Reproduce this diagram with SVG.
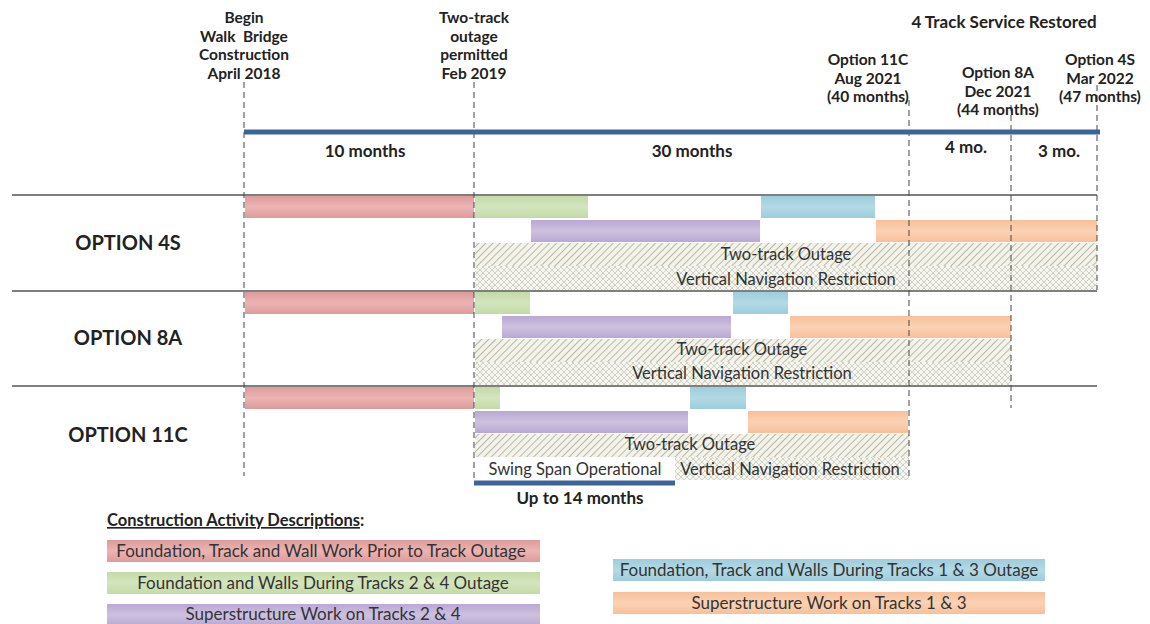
<svg xmlns="http://www.w3.org/2000/svg" width="1150" height="624" viewBox="0 0 1150 624">
<style>
text{font-family:Lato,"Liberation Sans",sans-serif;fill:#222}
.h{font-weight:bold;font-size:17px;text-anchor:middle}
.hs{font-weight:bold;font-size:15.5px;text-anchor:middle;white-space:pre}
.opt{font-weight:bold;font-size:20px;text-anchor:middle}
.lbl{font-size:16.5px;text-anchor:middle;fill:#333}
.leg{font-size:17px;text-anchor:middle;fill:#333}
.dash{stroke:#444;stroke-width:1;stroke-dasharray:6,4;fill:none}
.sep{stroke:#555;stroke-width:1.3}
.tl{stroke:#3c6496;stroke-width:5}
</style>
<defs>
<linearGradient id="gPink" x1="0" y1="0" x2="0" y2="1"><stop offset="0" stop-color="#dd9b9a"/><stop offset="0.5" stop-color="#ebb4b3"/><stop offset="1" stop-color="#dd9b9a"/></linearGradient>
<linearGradient id="gGreen" x1="0" y1="0" x2="0" y2="1"><stop offset="0" stop-color="#c3dba7"/><stop offset="0.5" stop-color="#d3e5bd"/><stop offset="1" stop-color="#c3dba7"/></linearGradient>
<linearGradient id="gBlue" x1="0" y1="0" x2="0" y2="1"><stop offset="0" stop-color="#9dcddc"/><stop offset="0.5" stop-color="#b3d9e5"/><stop offset="1" stop-color="#9dcddc"/></linearGradient>
<linearGradient id="gPurple" x1="0" y1="0" x2="0" y2="1"><stop offset="0" stop-color="#b9a8d2"/><stop offset="0.5" stop-color="#cdc1e0"/><stop offset="1" stop-color="#b9a8d2"/></linearGradient>
<linearGradient id="gOrange" x1="0" y1="0" x2="0" y2="1"><stop offset="0" stop-color="#f7c09a"/><stop offset="0.5" stop-color="#fbd2b4"/><stop offset="1" stop-color="#f7c09a"/></linearGradient>
<pattern id="hatch" width="5" height="5" patternUnits="userSpaceOnUse" patternTransform="rotate(45)">
<rect width="5" height="5" fill="#f3f3ec"/>
<line x1="0" y1="0" x2="0" y2="5" stroke="#b9b9a4" stroke-width="2"/>
</pattern>
<pattern id="cross" width="6" height="6" patternUnits="userSpaceOnUse">
<rect width="6" height="6" fill="#f6f6f0"/>
<path d="M0 0L6 6M6 0L0 6" stroke="#d2d2c4" stroke-width="1"/>
</pattern>
</defs>
<rect width="1150" height="624" fill="#fff"/>

<g id="separators">
<line class="sep" x1="12" y1="195" x2="1097" y2="195"/>
<line class="sep" x1="12" y1="291" x2="1097" y2="291"/>
<line class="sep" x1="12" y1="386" x2="1097" y2="386"/>
</g>

<g id="option-4s">
<text class="opt" x="128" y="250">OPTION 4S</text>
<rect x="245" y="196" width="229" height="22" fill="url(#gPink)"/>
<rect x="475" y="196" width="113" height="22" fill="url(#gGreen)"/>
<rect x="761" y="196" width="114" height="22" fill="url(#gBlue)"/>
<rect x="531" y="220" width="229" height="22" fill="url(#gPurple)"/>
<rect x="876" y="220" width="221" height="22" fill="url(#gOrange)"/>
<rect x="475" y="243" width="622" height="23" fill="url(#hatch)"/>
<rect x="475" y="266" width="622" height="24" fill="url(#cross)"/>
<text class="lbl" x="786" y="260">Two-track Outage</text>
<text class="lbl" x="786" y="285">Vertical Navigation Restriction</text>
</g>

<g id="option-8a">
<text class="opt" x="128" y="345">OPTION 8A</text>
<rect x="245" y="292" width="229" height="22" fill="url(#gPink)"/>
<rect x="475" y="292" width="55" height="22" fill="url(#gGreen)"/>
<rect x="733" y="292" width="55" height="22" fill="url(#gBlue)"/>
<rect x="502" y="316" width="229" height="22" fill="url(#gPurple)"/>
<rect x="790" y="316" width="221" height="22" fill="url(#gOrange)"/>
<rect x="475" y="339" width="536" height="23" fill="url(#hatch)"/>
<rect x="475" y="362" width="536" height="23" fill="url(#cross)"/>
<text class="lbl" x="742" y="355">Two-track Outage</text>
<text class="lbl" x="742" y="379">Vertical Navigation Restriction</text>
</g>

<g id="option-11c">
<text class="opt" x="128" y="442">OPTION 11C</text>
<rect x="245" y="387" width="229" height="22" fill="url(#gPink)"/>
<rect x="475" y="387" width="25" height="22" fill="url(#gGreen)"/>
<rect x="690" y="387" width="56" height="22" fill="url(#gBlue)"/>
<rect x="475" y="411" width="213" height="22" fill="url(#gPurple)"/>
<rect x="748" y="411" width="160" height="22" fill="url(#gOrange)"/>
<rect x="475" y="434" width="434" height="23" fill="url(#hatch)"/>
<rect x="675" y="457" width="234" height="23" fill="url(#cross)"/>
<text class="lbl" x="690" y="450">Two-track Outage</text>
<text class="lbl" x="575" y="475">Swing Span Operational</text>
<text class="lbl" x="790" y="475">Vertical Navigation Restriction</text>
<line class="tl" x1="474" y1="483" x2="675" y2="483" stroke-width="4"/>
<text class="h" x="580" y="504">Up to 14 months</text>
</g>

<g id="connectors">
<line class="dash" x1="244" y1="82" x2="244" y2="476"/>
<line class="dash" x1="474" y1="82" x2="474" y2="480"/>
<line class="dash" x1="909" y1="100" x2="909" y2="480"/>
<line class="dash" x1="1011" y1="105" x2="1011" y2="408"/>
<line class="dash" x1="1097" y1="85" x2="1097" y2="290"/>
<line class="tl" x1="244" y1="132" x2="1100" y2="132"/>
</g>

<g id="header">
<text class="hs" x="244" y="23">Begin</text>
<text class="hs" x="244" y="42">Walk  Bridge</text>
<text class="hs" x="244" y="60">Construction</text>
<text class="hs" x="244" y="79">April 2018</text>
<text class="hs" x="474" y="23">Two-track</text>
<text class="hs" x="474" y="42">outage</text>
<text class="hs" x="474" y="60">permitted</text>
<text class="hs" x="474" y="79">Feb 2019</text>
<text class="h" x="1004" y="28">4 Track Service Restored</text>
<text class="hs" x="868" y="65">Option 11C</text>
<text class="hs" x="868" y="84">Aug 2021</text>
<text class="hs" x="868" y="102">(40 months)</text>
<text class="hs" x="998" y="78">Option 8A</text>
<text class="hs" x="998" y="97">Dec 2021</text>
<text class="hs" x="998" y="115">(44 months)</text>
<text class="hs" x="1100" y="65">Option 4S</text>
<text class="hs" x="1100" y="84">Mar 2022</text>
<text class="hs" x="1100" y="102">(47 months)</text>
<text class="h" x="365" y="157">10 months</text>
<text class="h" x="692" y="157">30 months</text>
<text class="h" x="966" y="153">4 mo.</text>
<text class="h" x="1059" y="157">3 mo.</text>
</g>

<g id="legend">
<text x="107" y="526" style="font-weight:bold;font-size:16.5px"><tspan text-decoration="underline">Construction Activity Descriptions</tspan>:</text>
<rect x="107" y="540" width="433" height="22" fill="url(#gPink)"/>
<text class="leg" x="321" y="557">Foundation, Track and Wall Work Prior to Track Outage</text>
<rect x="107" y="572" width="433" height="22" fill="url(#gGreen)"/>
<text class="leg" x="323" y="589">Foundation and Walls During Tracks 2 &amp; 4 Outage</text>
<rect x="107" y="604" width="433" height="22" fill="url(#gPurple)"/>
<text class="leg" x="323" y="620">Superstructure Work on Tracks 2 &amp; 4</text>
<rect x="613" y="559" width="432" height="22" fill="url(#gBlue)"/>
<text class="leg" x="829" y="576">Foundation, Track and Walls During Tracks 1 &amp; 3 Outage</text>
<rect x="613" y="592" width="432" height="22" fill="url(#gOrange)"/>
<text class="leg" x="829" y="609">Superstructure Work on Tracks 1 &amp; 3</text>
</g>
</svg>
